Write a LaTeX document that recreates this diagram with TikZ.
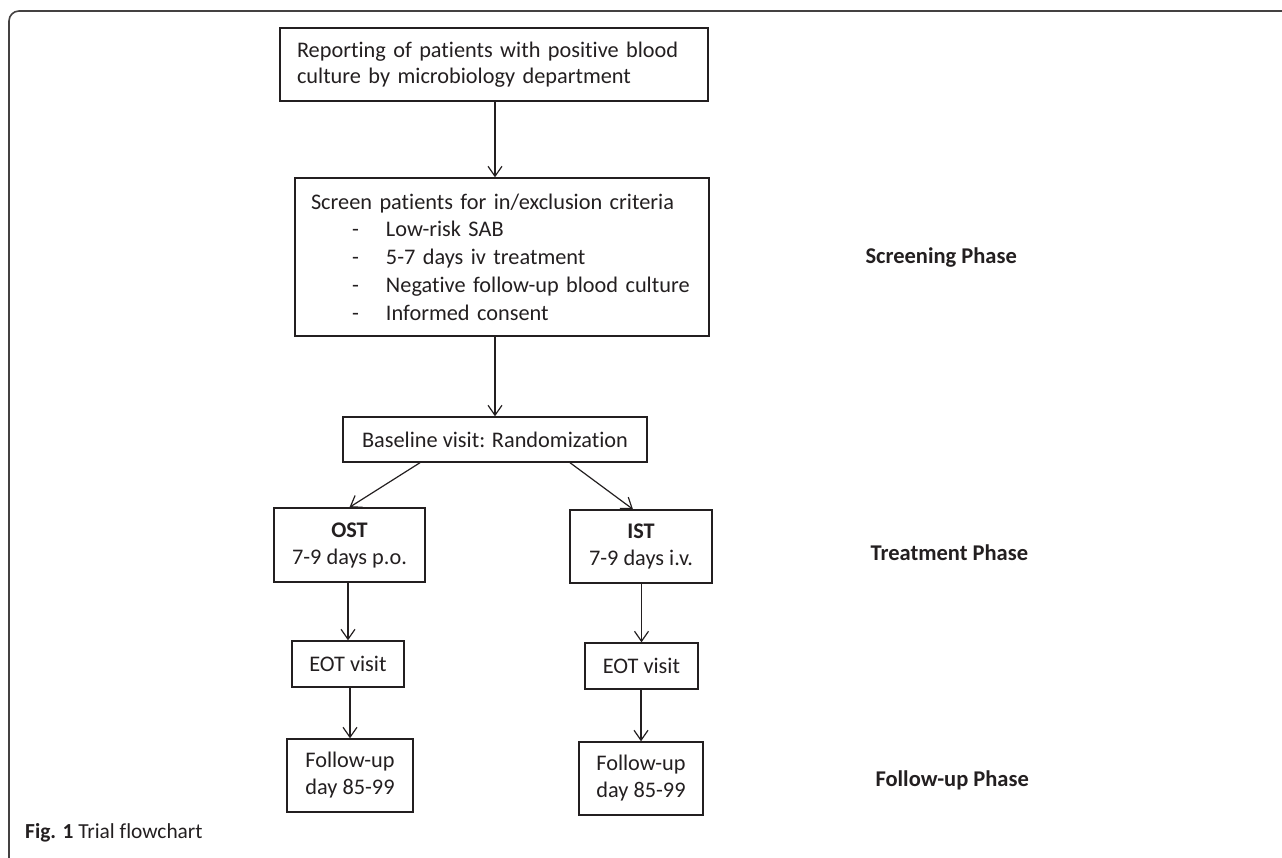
\documentclass[tikz,border=0pt]{standalone}
\usepackage{fontspec}
\setmainfont{Carlito}[Ligatures={NoCommon}]
\usetikzlibrary{arrows.meta}
\definecolor{ink}{HTML}{231F20}
\begin{document}
\begin{tikzpicture}[x=1pt,y=-1pt,
  box/.style={draw=ink,line width=1.4pt,inner sep=0pt,text=ink,font=\fontsize{22.3}{27}\selectfont},
  conn/.style={draw=ink,line width=1.2pt,-{Straight Barb[length=10pt,width=14pt,line width=1.2pt]}},
  phase/.style={text=ink,font=\fontsize{22.5}{26}\selectfont\bfseries,anchor=west},
  frame/.style={draw=ink!85,line width=1.6pt,rounded corners=10pt}]
\useasboundingbox (0,0) rectangle (1282,857);
\draw[frame] (9,860) -- (9,11) -- (1285,11);
% boxes
\node[box,minimum width=428pt,minimum height=73pt,text width=394pt,align=left,font=\fontsize{22.3}{26}\selectfont] (b1) at (494,64.5)
  {Reporting of patients with positive blood\\culture by microbiology department};
\node[box,minimum width=414pt,minimum height=158pt,text width=382pt,align=left,font=\fontsize{22.3}{27.7}\selectfont] (b2) at (502,257)
  {Screen patients for in/exclusion criteria\\
  \hspace*{41pt}\makebox[34pt][l]{-}Low-risk SAB\\
  \hspace*{41pt}\makebox[34pt][l]{-}5-7 days iv treatment\\
  \hspace*{41pt}\makebox[34pt][l]{-}Negative follow-up blood culture\\
  \hspace*{41pt}\makebox[34pt][l]{-}Informed consent};
\node[box,minimum width=304pt,minimum height=45pt] (b3) at (495,439.5) {Baseline visit: Randomization};
\node[box,minimum width=151pt,minimum height=74pt,align=center] (ost) at (349.5,545) {\textbf{OST}\\7-9 days p.o.};
\node[box,minimum width=142pt,minimum height=73pt,align=center] (ist) at (641,546.5) {\textbf{IST}\\7-9 days i.v.};
\node[box,minimum width=112pt,minimum height=46pt] (eotl) at (348,664) {EOT visit};
\node[box,minimum width=113pt,minimum height=46pt] (eotr) at (641.5,666) {EOT visit};
\node[box,minimum width=126pt,minimum height=73pt,align=center] (ful) at (350,775.5) {Follow-up\\day 85-99};
\node[box,minimum width=124pt,minimum height=73pt,align=center] (fur) at (641,778.5) {Follow-up\\day 85-99};
% phase labels
\node[phase] (p1) at (862,258) {Screening Phase};
\node[phase] (p2) at (867,553) {Treatment Phase};
\node[phase] (p3) at (872,780) {Follow-up Phase};
% caption
\node[anchor=base west,inner sep=0pt,text=ink,font=\fontsize{21.4}{25}\selectfont] (cap) at (25,838) {\textbf{Fig. 1} Trial flowchart};
% connectors
\draw[conn] ([xshift=1pt]b1.south) -- ([xshift=1pt]b1.south |- b2.north);
\draw[conn] (b3.north |- b2.south) -- (b3.north);
\draw[conn] ([xshift=-75pt]b3.south) -- (ost.north);
\draw[conn] ([xshift=75pt]b3.south) -- ([xshift=-8pt]ist.north);
\draw[conn] (eotl.north |- ost.south) -- (eotl.north);
\draw[conn] (ful.north |- eotl.south) -- (ful.north);
\draw[conn] (eotr.north |- ist.south) -- (eotr.north);
\draw[conn] (fur.north |- eotr.south) -- (fur.north);
\end{tikzpicture}
\end{document}
